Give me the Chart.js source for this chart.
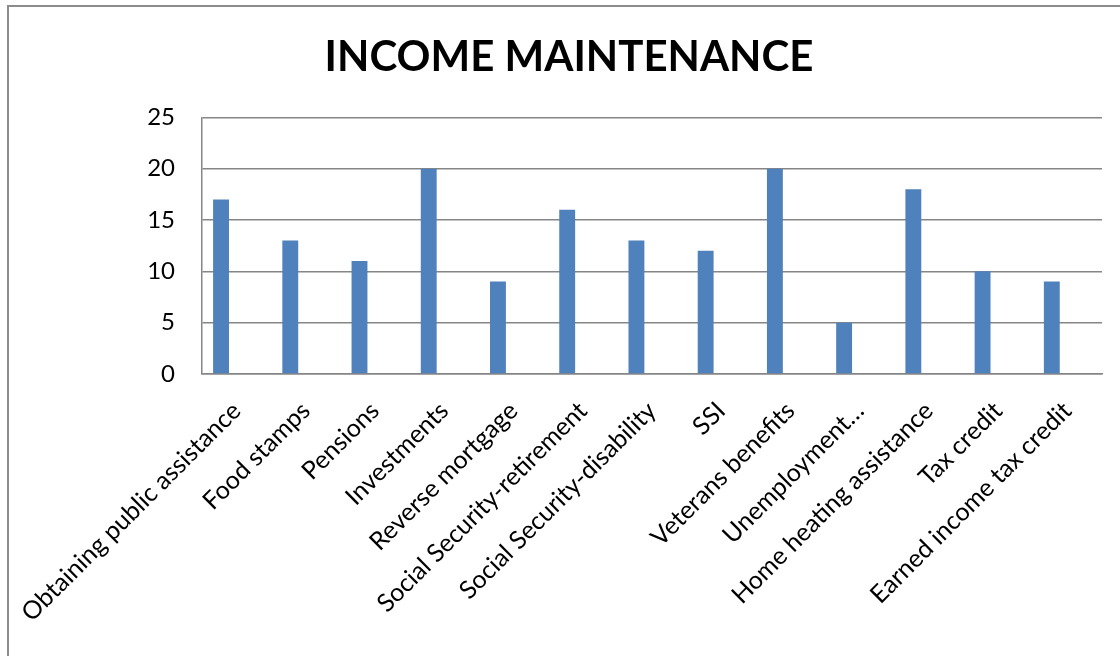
<!DOCTYPE html>
<html>
<head>
<meta charset="utf-8">
<script src="https://cdn.jsdelivr.net/npm/chart.js@4.4.1/dist/chart.umd.min.js"></script>
<style>
  html, body { margin: 0; padding: 0; background: #fff; overflow: hidden; }
  #frame {
    position: absolute; left: 7px; top: 5px;
    width: 1200px; height: 800px;
    border: 2px solid #8c8c8c;
  }
  #wrap { position: absolute; left: 0; top: 0; width: 1120px; height: 656px; }
</style>
</head>
<body>
<div id="frame"></div>
<div id="wrap"><canvas id="incomeChart"></canvas></div>
<script>
`use strict`

// 項目と件数
const categories = [
  'Obtaining public assistance', 'Food stamps', 'Pensions', 'Investments',
  'Reverse mortgage', 'Social Security-retirement', 'Social Security-disability',
  'SSI', 'Veterans benefits', 'Unemployment…', 'Home heating assistance',
  'Tax credit', 'Earned income tax credit'
];
const counts = [17, 13, 11, 20, 9, 16, 13, 12, 20, 5, 18, 10, 9];
// 空の2番目の系列（棒を左寄せにするため）
const emptySeries = [];
const yTicks = [0, 5, 10, 15, 20, 25];

const font = 'Lato, "Open Sans", sans-serif';

{
  const ctx = document.getElementById('incomeChart');
  const myChart = new Chart(ctx, {
    type: 'bar',
    data: {
      labels: categories,
      datasets: [{
        label: 'Series1',
        data: counts,
        backgroundColor: '#4f81bd',
        borderWidth: 0,
        categoryPercentage: 0.9,
        barPercentage: 0.51
      }, {
        label: 'Series2',
        data: emptySeries,
        backgroundColor: '#c0504d',
        categoryPercentage: 0.9,
        barPercentage: 0.51
      }]
    },
    options: {
      responsive: true,
      maintainAspectRatio: false,
      animation: false,
      layout: {
        padding: { left: 36, right: 18, top: 0, bottom: 0 }
      },
      scales: {
        x: {
          grid: { display: false, drawTicks: false },
          border: { display: true, color: '#868686', width: 1.5 },
          ticks: {
            color: '#000',
            font: { family: font, size: 25 },
            minRotation: 45,
            maxRotation: 45,
            padding: 22,
            autoSkip: false
          },
          afterFit: (scale) => {
            scale.height = 282;
            // 斜めラベルのはみ出し分は無視する
            scale.paddingLeft = 0;
            scale.paddingRight = 0;
          }
        },
        y: {
          min: 0,
          max: 25,
          afterBuildTicks: (scale) => {
            scale.ticks = yTicks.map(v => ({ value: v }));
          },
          grid: { color: '#868686', lineWidth: 1.5, drawTicks: false },
          border: { display: true, color: '#868686', width: 1.5 },
          ticks: {
            color: '#000',
            font: { family: font, size: 24 },
            padding: 27
          },
          afterFit: (scale) => { scale.width = 166; }
        }
      },
      plugins: {
        legend: { display: false },
        tooltip: { enabled: false },
        title: {
          display: true,
          text: 'INCOME MAINTENANCE',
          color: '#000',
          font: { family: font, size: 42, weight: 'bold', lineHeight: 1.2 },
          padding: { top: 32, bottom: 35 }
        }
      }
    }
  });
}
</script>
</body>
</html>
